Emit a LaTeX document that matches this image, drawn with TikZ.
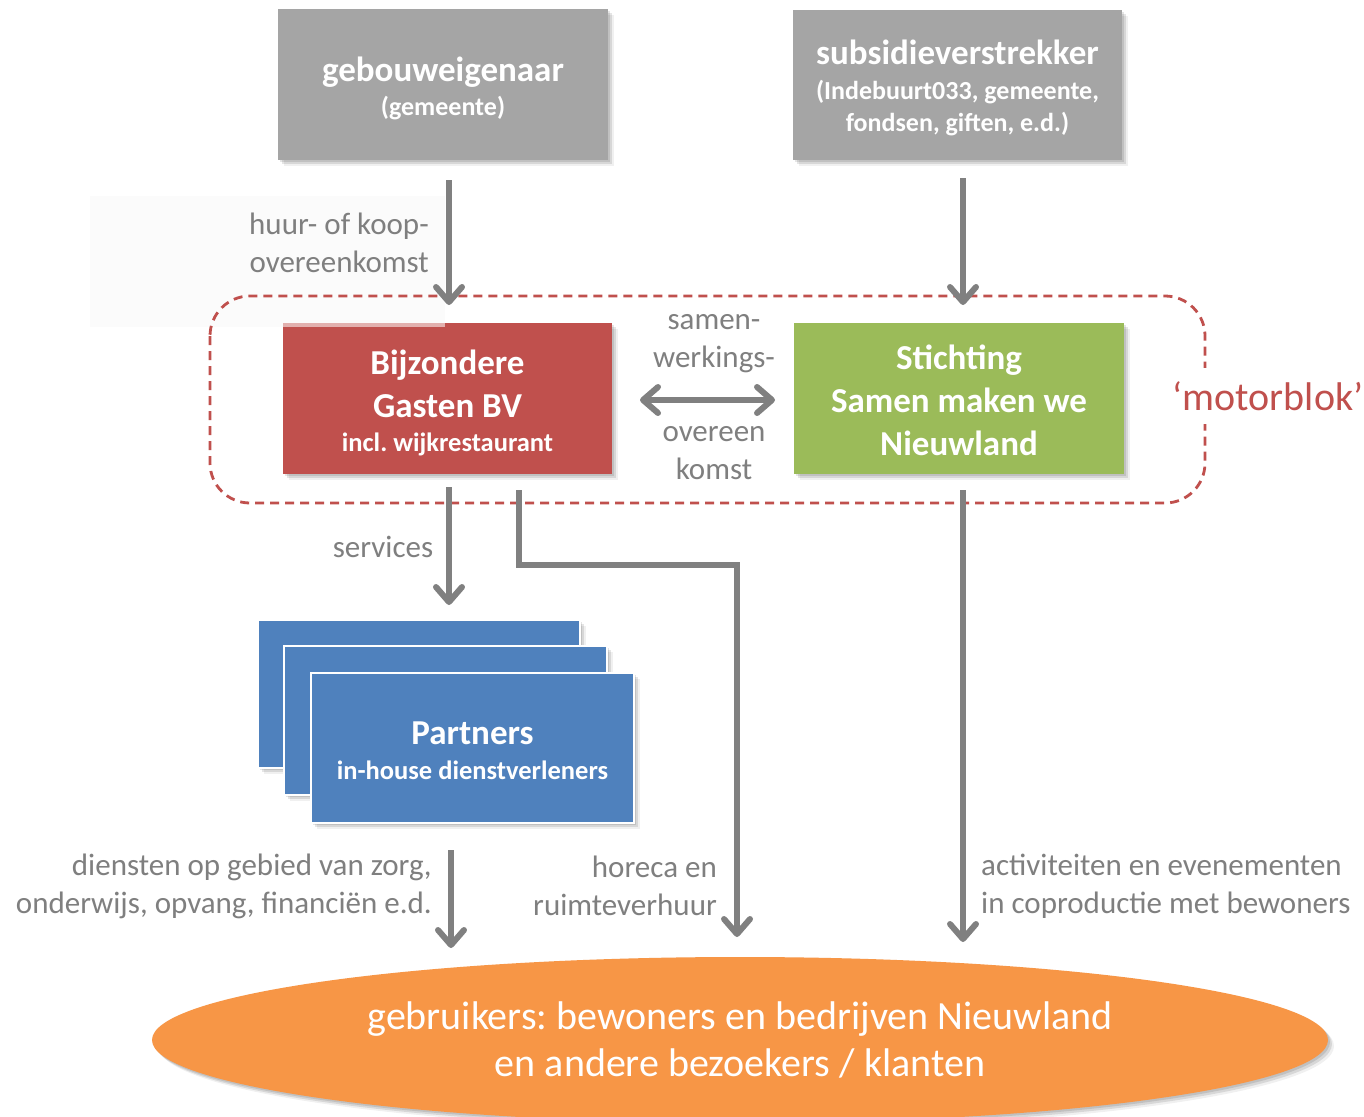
\documentclass[tikz,border=0pt]{standalone}
\usepackage{fontspec}
\setmainfont{Carlito}
\usetikzlibrary{arrows.meta,shapes.geometric,shadows}
\definecolor{boxgray}{HTML}{A5A5A5}
\definecolor{redbox}{HTML}{C0504D}
\definecolor{greenbox}{HTML}{9BBB59}
\definecolor{bluebox}{HTML}{4F81BD}
\definecolor{orangeel}{HTML}{F79646}
\definecolor{arrowgray}{HTML}{808080}
\definecolor{labelgray}{HTML}{7F7F7F}
\newcommand{\fsz}[2]{\fontsize{#1}{#2}\selectfont}
\newcommand{\topline}[2]{\rule{0pt}{#1}\smash{#2}}
\frenchspacing
\tikzset{
  shad/.style={
    drop shadow={shadow xshift=2pt, shadow yshift=-2pt, opacity=0.10, fill=black},
    drop shadow={shadow xshift=4pt, shadow yshift=-4pt, opacity=0.10, fill=black},
    drop shadow={shadow xshift=6pt, shadow yshift=-6pt, opacity=0.06, fill=black}},
  box/.style={rectangle, inner sep=0pt, text=white, align=center, shad},
  tipg/.tip={Straight Barb[length=15pt, width=26pt, line cap=round, line join=round]},
  garrow/.style={draw=arrowgray, line width=6pt, -tipg},
  lbl/.style={text=labelgray, inner sep=0pt, font=\fsz{31}{38}},
}
\begin{document}
\begin{tikzpicture}[x=1pt,y=-1pt]
\useasboundingbox[fill=white] (0,0) rectangle (1364,1116);
% faint background patch
\fill[black!1.5] (90,196) rectangle (445,327);

% top boxes
\node[box, fill=boxgray, minimum width=330, minimum height=151, font=\bfseries\fsz{35}{34}] (geb) at (443,84.5)
  {\topline{27.3pt}{gebouweigenaar}\\\smash{\fsz{26}{34}(gemeente)}};
\node[box, fill=boxgray, minimum width=329, minimum height=150, font=\bfseries\fsz{35}{32}] (sub) at (957.5,85)
  {\topline{25.3pt}{subsidieverstrekker}\\[2.9pt]\smash{\fsz{26}{32}(Indebuurt033, gemeente,}\\\smash{\fsz{26}{32}fondsen, giften, e.d.)}};

% motorblok boundary
\draw[draw=redbox, line width=2.8pt, dash pattern=on 9pt off 6pt, rounded corners=40pt]
  (210,296) rectangle (1205,503);
\node[fill=white, text=redbox, inner sep=2pt, minimum height=56pt, font=\fsz{40}{42}] (motor) at (1268,396) {‘motorblok’};

% motor boxes
\node[box, fill=redbox, minimum width=329, minimum height=151, font=\bfseries\fsz{35}{43}] (bij) at (447.5,398.5)
  {\topline{29.4pt}{Bijzondere}\\\smash{Gasten BV}\\[-9pt]\smash{\fsz{26.5}{43}incl. wijkrestaurant}};
\fill[white, opacity=0.55] (283,323) rectangle (445,327);
\node[box, fill=greenbox, minimum width=330, minimum height=151, font=\bfseries\fsz{35}{43}] (stich) at (959,398.5)
  {\topline{27.4pt}{Stichting}\\\smash{Samen maken we}\\\smash{Nieuwland}};

% partners
\node[box, fill=bluebox, draw=white, line width=2pt, minimum width=322, minimum height=148] (p1) at (419,694) {};
\node[box, fill=bluebox, draw=white, line width=2pt, minimum width=323, minimum height=149] (p2) at (445.5,720.5) {};
\node[box, fill=bluebox, draw=white, line width=2pt, minimum width=323, minimum height=150, font=\bfseries\fsz{35}{35}] (p3) at (472.5,748)
  {\topline{27.4pt}{Partners}\\\smash{\fsz{26.5}{35}in-house dienstverleners}};

% users ellipse
\node[ellipse, fill=orangeel, minimum width=1176, minimum height=166, inner sep=0pt, text=white, align=center,
  font=\fsz{40}{47}, shad] (users) at (740,1040)
  {gebruikers: bewoners en bedrijven Nieuwland\\en andere bezoekers / klanten};

% connector coordinates
\coordinate (a1s) at (449,180); \coordinate (a1e) at (449,305);
\coordinate (a2s) at (963,178); \coordinate (a2e) at (963,305);
\coordinate (dbs) at (640,400); \coordinate (dbe) at (775,400);
\coordinate (svs) at (449,487); \coordinate (sve) at (449,605);
\coordinate (h1) at (519,490); \coordinate (h2) at (519,565); \coordinate (h3) at (737,565); \coordinate (h4) at (737,937);
\coordinate (zs) at (451,850); \coordinate (ze) at (451,948);
\coordinate (ss) at (963,490); \coordinate (se) at (963,942);

\draw[garrow] (a1s) -- (a1e);
\draw[garrow] (a2s) -- (a2e);
\draw[draw=arrowgray, line width=6pt, tipg-tipg] (dbs) -- (dbe);
\draw[garrow] (svs) -- (sve);
\draw[garrow, line join=miter] (h1) -- (h2) -- (h3) -- (h4);
\draw[garrow] (zs) -- (ze);
\draw[garrow] (ss) -- (se);

% labels
\node[lbl, anchor=east, align=right] (lhuur) at (429,243) {huur- of koop-\\overeenkomst};
\node[lbl, align=center] (lsamen) at (714,344) {samen-\\werkings-};
\node[lbl, align=center] (lover) at (714,453) {overeen\\komst};
\node[lbl] (lserv) at (383,547) {services};
\node[lbl, anchor=east, align=right] (lzorg) at (432,886) {diensten op gebied van zorg,\\onderwijs, opvang, financiën e.d.};
\node[lbl, anchor=east, align=right] (lhor) at (717,886) {horeca en\\ruimteverhuur};
\node[lbl, anchor=west, align=left] (lact) at (981,886) {activiteiten en evenementen\\in coproductie met bewoners};
\end{tikzpicture}
\end{document}
